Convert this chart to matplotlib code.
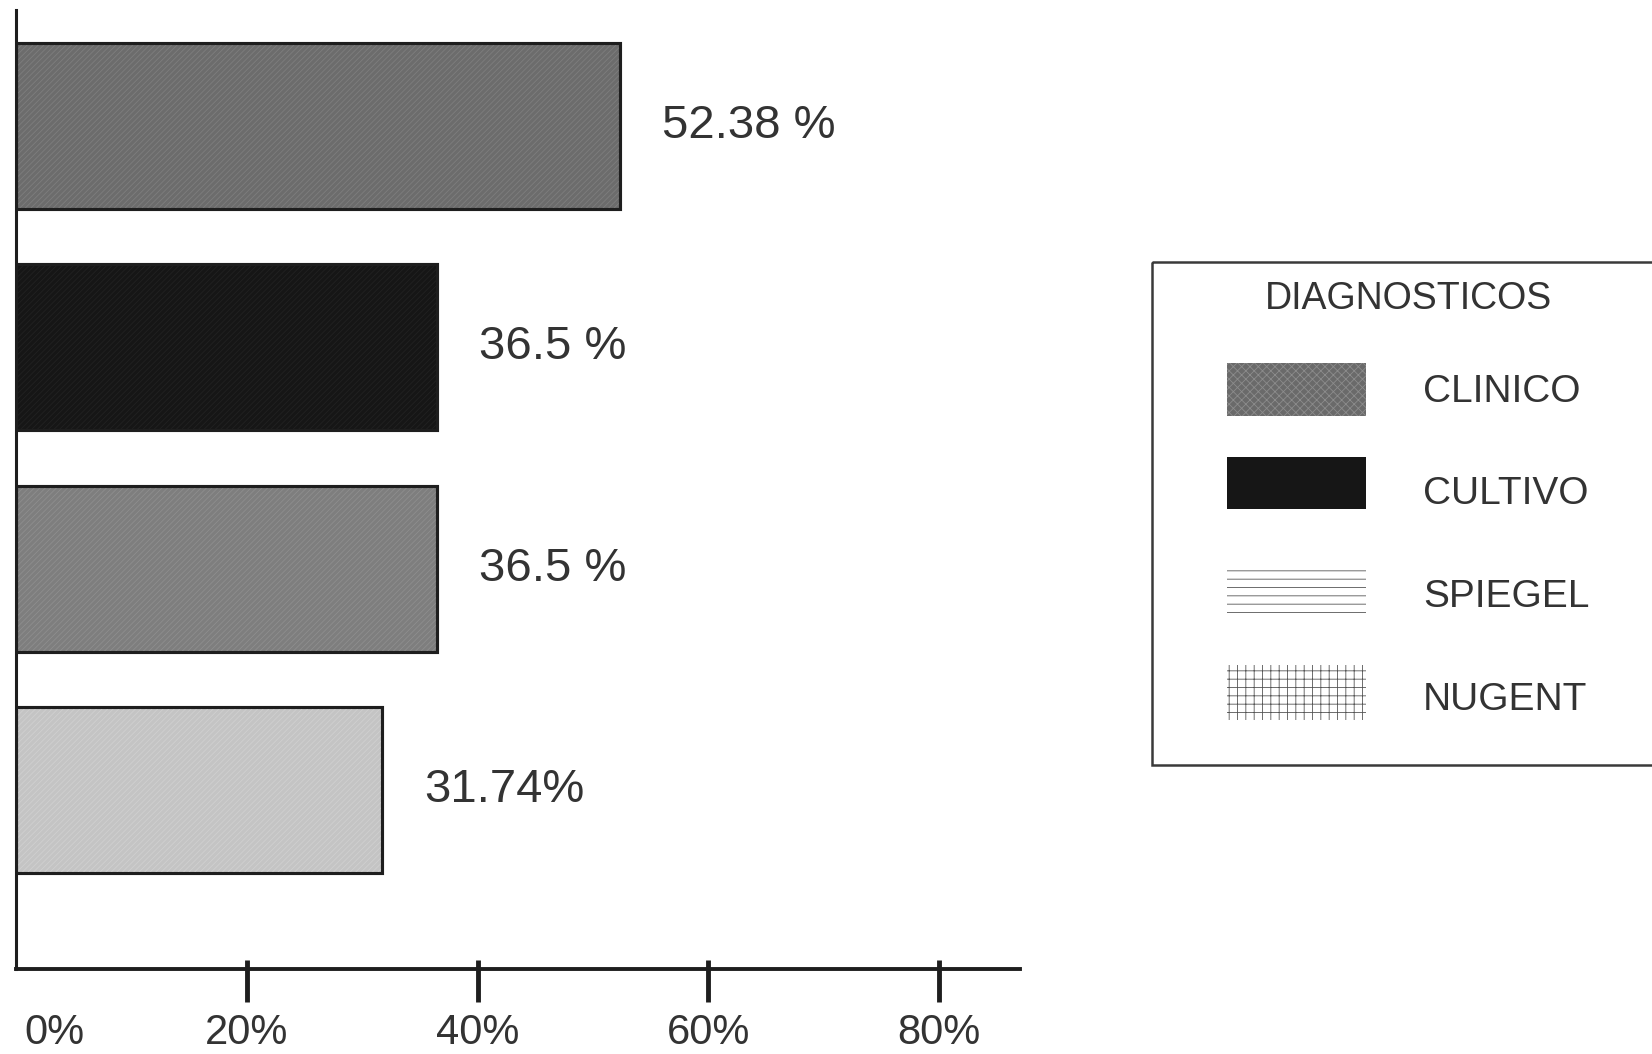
import matplotlib.pyplot as plt
from matplotlib.patches import Rectangle
from matplotlib.transforms import ScaledTranslation

# Porcentaje de casos por metodo diagnostico
metodos = ["CLINICO", "CULTIVO", "SPIEGEL", "NUGENT"]
porcentajes = [52.38, 36.5, 36.5, 31.74]
etiquetas = ["52.38 %", "36.5 %", "36.5 %", "31.74%"]
ticks = [0, 20, 40, 60, 80]
tick_labels = ["0%", "20%", "40%", "60%", "80%"]

rellenos = ["#6c6c6c", "#161616", "#7e7e7e", "#c4c4c4"]
tramas = ["#7e7e7e", "#222222", "#8e8e8e", "#d0d0d0"]

plt.rcParams["font.family"] = ["Liberation Sans", "DejaVu Sans"]
plt.rcParams["hatch.linewidth"] = 0.6
texto = "#333333"
borde = "#1e1e1e"

fig = plt.figure(figsize=(16.52, 10.54), dpi=100)
ax = fig.add_axes([16 / 1652, 85 / 1054, 1004 / 1652, 959 / 1054])

y = list(range(len(metodos)))
ax.barh(y, porcentajes, height=0.75, color=rellenos, edgecolor=borde,
        linewidth=2.2, zorder=2)
# textura fina encima del relleno
ax.barh(y, porcentajes, height=0.75, color="none", edgecolor=tramas,
        hatch="//////", linewidth=0, zorder=2.5)
ax.barh(y, porcentajes, height=0.75, color="none", edgecolor=borde,
        linewidth=2.2, zorder=3)

for yi, val, txt in zip(y, porcentajes, etiquetas):
    ax.annotate(txt, (val, yi), xytext=(30, 0), textcoords="offset points",
                ha="left", va="center", fontsize=34, color=texto)

ax.set_xlim(0, 87)
ax.set_ylim(3.81, -0.525)
ax.set_yticks([])
for s in ["top", "right"]:
    ax.spines[s].set_visible(False)
ax.spines["left"].set_linewidth(2.2)
ax.spines["bottom"].set_linewidth(2.8)
ax.spines["left"].set_color(borde)
ax.spines["bottom"].set_color(borde)

ax.set_xticks(ticks)
ax.set_xticklabels(tick_labels)
ax.tick_params(axis="x", direction="out", length=24, width=3.5, color=borde,
               labelsize=30, labelcolor=texto, pad=8)
ax.xaxis.remove_overlapping_locs = False
ax.set_xticks(ticks[1:], minor=True)
ax.tick_params(axis="x", which="minor", direction="in", length=6.5,
               width=3.5, color=borde)
t0 = ax.xaxis.get_major_ticks()[0]
t0.tick1line.set_visible(False)
t0.label1.set_horizontalalignment("left")
t0.label1.set_transform(t0.label1.get_transform()
                        + ScaledTranslation(0.08, 0, fig.dpi_scale_trans))

# leyenda dibujada a mano
lax = fig.add_axes([0, 0, 1, 1])
lax.set_xlim(0, 1652)
lax.set_ylim(1054, 0)
lax.axis("off")
lax.patch.set_alpha(0)
lax.add_patch(Rectangle((1152, 262), 560, 503, fill=False, lw=1.8,
                        ec="#3a3a3a"))
lax.text(1408, 299, "DIAGNOSTICOS", ha="center", va="center",
         fontsize=27, color=texto)

muestras = [
    dict(xy=(1227, 363), h=53, fc="#6a6a6a", ec="#8c8c8c", hatch="xxxx"),
    dict(xy=(1227, 457), h=52, fc="#161616", ec="#262626", hatch=None),
    dict(xy=(1227, 570), h=44, fc="white", ec="#555555", hatch="--"),
    dict(xy=(1227, 665), h=55, fc="white", ec="#555555", hatch="++"),
]
filas = [392, 494, 597, 700]
for m, fy, nombre in zip(muestras, filas, metodos):
    lax.add_patch(Rectangle(m["xy"], 139, m["h"], fc=m["fc"], ec=m["ec"],
                            hatch=m["hatch"], lw=0))
    lax.text(1423, fy, nombre, ha="left", va="center", fontsize=28,
             color=texto)

fig.savefig("out.png", dpi=100)
